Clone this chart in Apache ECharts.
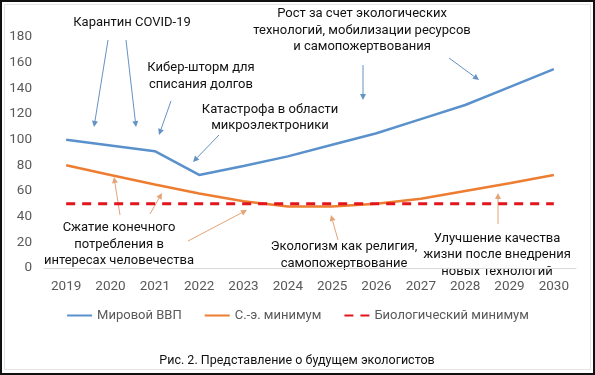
<!DOCTYPE html>
<html>
<head>
<meta charset="utf-8">
<script src="https://cdn.jsdelivr.net/npm/echarts@6/dist/echarts.min.js"></script>
<style>
  html, body { margin: 0; padding: 0; background: #fff; }
  #wrap { position: relative; width: 595px; height: 375px; }
  #chart { width: 595px; height: 375px; }
  #frame { position: absolute; left: 0; top: 0; width: 595px; height: 375px; box-sizing: border-box; border: 2px solid #111; pointer-events: none; }
</style>
</head>
<body>
<div id="wrap"><div id="chart"></div><div id="frame"></div></div>
<script>
const years = ['2019','2020','2021','2022','2023','2024','2025','2026','2027','2028','2029','2030'];
const worldGdp = [100, 95.5, 91, 72.5, 79.5, 87, 96, 105, 116, 127, 141, 155];
const socEcoMin = [80, 72.5, 65, 58, 52, 48, 48, 50, 54, 60, 66, 72.5];
const bioMin = [50, 50, 50, 50, 50, 50, 50, 50, 50, 50, 50, 50];
const seriesNames = ['Мировой ВВП', 'С.-э. минимум', 'Биологический минимум'];
const caption = 'Рис. 2. Представление о будущем экологистов';

const FONT = 'Roboto';
const chart = echarts.init(document.getElementById('chart'), null, { renderer: 'canvas' });

const blueArrow = '#6592c4';
const orangeArrow = '#e3a477';

function arrow(x1, y1, x2, y2, color) {
  const a = Math.atan2(y2 - y1, x2 - x1);
  const L = 6, W = 3;
  const c = Math.cos(a), s = Math.sin(a);
  const bx = x2 - L * c, by = y2 - L * s;
  return [
    { type: 'line', silent: true, shape: { x1: x1, y1: y1, x2: bx, y2: by }, style: { stroke: color, lineWidth: 1 } },
    { type: 'polygon', silent: true, shape: { points: [[x2, y2], [bx + W * s, by - W * c], [bx - W * s, by + W * c]] }, style: { fill: color } }
  ];
}
function note(txt, cx, cy) {
  return { type: 'text', silent: true, x: cx, y: cy, style: { text: txt, fill: '#111', font: '13px ' + FONT, align: 'center', verticalAlign: 'middle', lineHeight: 16.5 } };
}

const graphics = [
  note('Карантин COVID-19', 132, 23),
  note('Кибер-шторм для\nсписания долгов', 201, 76),
  note('Катастрофа в области\nмикроэлектроники', 270, 117.5),
  note('Рост за счет экологических\nтехнологий, мобилизации ресурсов\nи самопожертвования', 362, 30.5),
  note('Сжатие конечного\nпотребления в\nинтересах человечества', 119, 244.5),
  note('Экологизм как религия,\nсамопожертвование', 344, 255),
  note('Улучшение качества\nжизни после внедрения\nновых технологий', 497, 255),
  { type: 'text', silent: true, x: 297, y: 361, style: { text: caption, fill: '#111', font: '12.5px ' + FONT, align: 'center', verticalAlign: 'middle' } },
  { type: 'rect', silent: true, shape: { x: 4.5, y: 4.5, width: 586, height: 365 }, style: { fill: 'none', stroke: '#e4e4e4', lineWidth: 1 } }
].concat(
  arrow(108, 40, 94, 127, blueArrow),
  arrow(126, 40, 136, 127, blueArrow),
  arrow(171, 101, 159, 135, blueArrow),
  arrow(219, 135, 193, 162, blueArrow),
  arrow(363, 65, 363, 100, blueArrow),
  arrow(449, 58, 479, 80, blueArrow),
  arrow(120, 215, 114, 177, orangeArrow),
  arrow(150, 214, 162, 193, orangeArrow),
  arrow(188, 241, 247, 210, orangeArrow),
  arrow(338, 240, 331, 215, orangeArrow),
  arrow(498, 224, 498, 193, orangeArrow)
);

const option = {
  animation: false,
  backgroundColor: '#fff',
  textStyle: { fontFamily: FONT },
  grid: { left: 44, right: 19, top: 37, bottom: 107, containLabel: false },
  legend: {
    top: 304, left: 'center',
    itemWidth: 25, itemHeight: 14, itemGap: 22,
    itemStyle: { opacity: 0 },
    textStyle: { color: '#595959', fontSize: 13, fontFamily: FONT },
    data: seriesNames
  },
  xAxis: {
    type: 'category', data: years, boundaryGap: true,
    axisLine: { lineStyle: { color: '#d9d9d9', width: 1 } },
    axisTick: { show: false },
    axisLabel: { color: '#595959', fontSize: 13.5, margin: 12, fontFamily: FONT },
    splitLine: { show: false }
  },
  yAxis: {
    type: 'value', min: 0, max: 180, interval: 20,
    axisLine: { show: false }, axisTick: { show: false },
    axisLabel: { color: '#595959', fontSize: 13.5, margin: 12, fontFamily: FONT },
    splitLine: { show: false }
  },
  series: [
    { name: seriesNames[0], type: 'line', data: worldGdp, symbol: 'none', lineStyle: { color: '#5a91cc', width: 2.5 }, itemStyle: { color: '#5a91cc' } },
    { name: seriesNames[1], type: 'line', data: socEcoMin, symbol: 'none', lineStyle: { color: '#ed7d31', width: 2.5 }, itemStyle: { color: '#ed7d31' } },
    { name: seriesNames[2], type: 'line', data: bioMin, symbol: 'none', lineStyle: { color: '#e3141c', width: 3, type: [9, 7] }, itemStyle: { color: '#e3141c' } }
  ],
  graphic: graphics
};
chart.setOption(option);
</script>
</body>
</html>
